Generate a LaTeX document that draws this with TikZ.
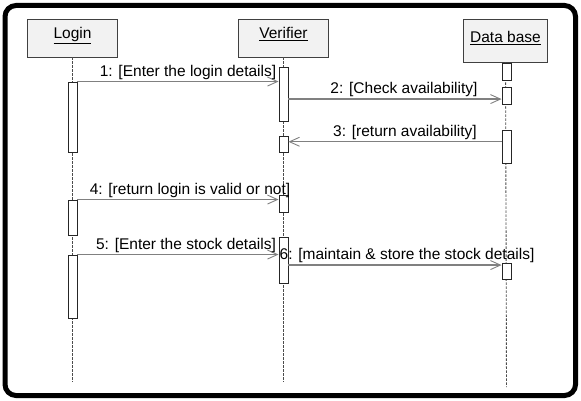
\documentclass[tikz,border=0pt]{standalone}
\usepackage{fontspec}
\setmainfont{Liberation Sans}
\usepackage{tikz}
\usetikzlibrary{calc}
\usetikzlibrary{arrows.meta}

\tikzset{
  obj/.style={draw=black!75, fill=black!5, line width=.9pt, inner sep=0, minimum width=90, minimum height=38, text height=10, text depth=8},
  act/.style={draw=black!85, fill=white, line width=.9pt, minimum width=9, inner sep=0},
  life/.style={black!70, line width=.9pt, dash pattern=on 2.5pt off 1.5pt},
  msg/.style={black!50, line width=1.4pt, -{Straight Barb[length=10pt,width=9pt,line width=.9pt]}},
  lbl/.style={above, inner sep=1.5pt, text=black, font=\fontsize{15.5}{18}\selectfont}
}

\begin{document}
\begin{tikzpicture}[x=1pt,y=-1pt, font=\fontsize{15.5}{18}\selectfont]
\useasboundingbox (0,0) rectangle (581,401);
\draw[line width=5, rounded corners=11] (5,5.5) rectangle (575.5,395.5);

% objects
\node[obj] (login) at (72.5,38) {\underline{Login}};
\node[obj] (verif) at (283.5,38) {\underline{Verifier}};
\node[obj, minimum width=84, minimum height=43, text height=12, text depth=7] (dbase) at (505.5,40.5) {\underline{Data base}};

\coordinate (login-end) at (72.5,382);
\coordinate (verif-end) at (283.5,382);
\coordinate (dbase-end) at (506.5,387);
\foreach \o in {login,verif,dbase} {
  \draw[life] (\o) -- (\o-end);
}

% activations
\node[act, minimum height=70] (la1) at (72.5,117) {};
\node[act, minimum height=35] (la2) at (72.5,217.5) {};
\node[act, minimum height=63] (la3) at (72.5,286.5) {};
\node[act, minimum height=54] (va1) at (283.5,94) {};
\node[act, minimum height=16] (va2) at (283.5,144) {};
\node[act, minimum height=17] (va3) at (283.5,203.5) {};
\node[act, minimum height=46] (va4) at (283.5,260) {};
\node[act, minimum height=17] (da1) at (506.5,71.5) {};
\node[act, minimum height=17] (da2) at (506.5,95.5) {};
\node[act, minimum height=33] (da3) at (506.5,146.5) {};
\node[act, minimum height=16] (da4) at (506.5,271) {};

% messages
\draw[msg] (la1.north east) -- (la1.north east -| va1.west)
  node[lbl, pos=.5, xshift=10] {1: [Enter the login details]};
\coordinate (m2) at ($(da2.north west)!.7!(da2.south west)$);
\draw[msg] (m2 -| va1.east) -- (m2)
  node[lbl, pos=.5, xshift=9] {2: [Check availability]};
\coordinate (m3) at ($(da3.north west)!.36!(da3.south west)$);
\draw[msg] (m3) -- (m3 -| va2.east)
  node[lbl, pos=.5, xshift=10] {3: [return availability]};
\draw[msg] (la2.north east) -- (la2.north east -| va3.west)
  node[lbl, pos=.5, xshift=12] {4: [return login is valid or not]};
\draw[msg] (la3.north east) -- (la3.north east -| va4.west)
  node[lbl, pos=.5, xshift=8] {5: [Enter the stock details]};
\coordinate (m6) at ($(da4.north west)!.15!(da4.south west)$);
\draw[msg] (m6 -| va4.east) -- (m6)
  node[lbl, pos=.5, xshift=12] {6: [maintain \& store the stock details]};
\end{tikzpicture}
\end{document}
